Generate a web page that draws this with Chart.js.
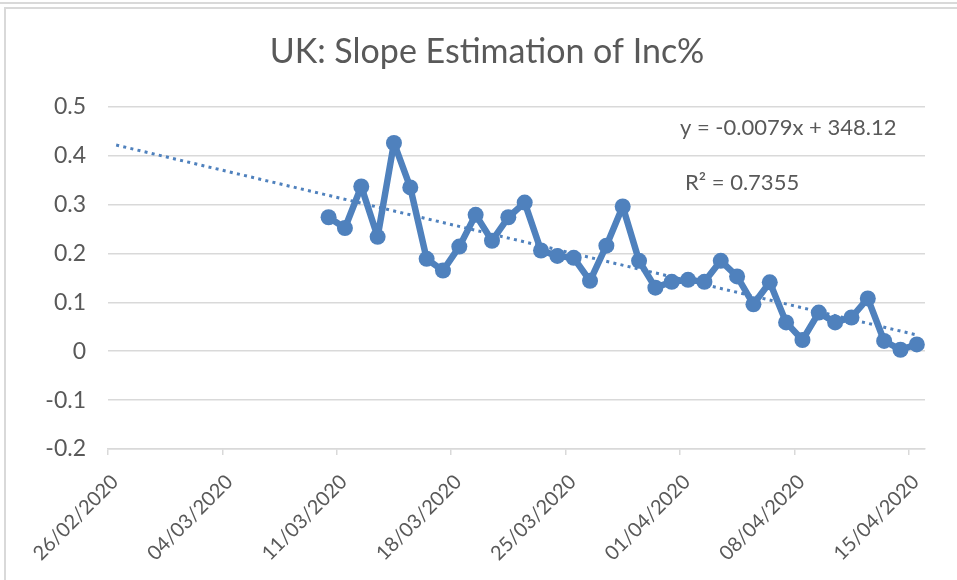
<!DOCTYPE html>
<html>
<head>
<meta charset="utf-8">
<title>UK: Slope Estimation of Inc%</title>
<script src="https://cdn.jsdelivr.net/npm/chart.js@4.4.1/dist/chart.umd.min.js"></script>
<style>
  html, body { margin: 0; padding: 0; background: #fff; }
  .wrap { position: relative; width: 957px; height: 580px; overflow: hidden; }
  .wrap canvas { position: absolute; left: 0; top: 0; }
  /* outline of the sheet above and the chart frame */
  .rule-top { position: absolute; left: 0; right: 0; top: 2px; height: 2px; background: #d9d9d9; }
  .frame { position: absolute; left: 4px; top: 7px; right: -4px; bottom: -4px;
           border-left: 2px solid #d9d9d9; border-top: 2px solid #d9d9d9; pointer-events: none; }
</style>
</head>
<body>
<div class="wrap">
  <canvas id="grafic" width="957" height="580"></canvas>
  <div class="rule-top"></div>
  <div class="frame"></div>
</div>
<script>
// first day on the date axis, ticks every week
const axisStart = '26/02/2020';
const axisDays = 50;
const tickStepDays = 7;

const dates = [
  '10/03/2020', '11/03/2020', '12/03/2020', '13/03/2020', '14/03/2020', '15/03/2020',
  '16/03/2020', '17/03/2020', '18/03/2020', '19/03/2020', '20/03/2020', '21/03/2020',
  '22/03/2020', '23/03/2020', '24/03/2020', '25/03/2020', '26/03/2020', '27/03/2020',
  '28/03/2020', '29/03/2020', '30/03/2020', '31/03/2020', '01/04/2020', '02/04/2020',
  '03/04/2020', '04/04/2020', '05/04/2020', '06/04/2020', '07/04/2020', '08/04/2020',
  '09/04/2020', '10/04/2020', '11/04/2020', '12/04/2020', '13/04/2020', '14/04/2020',
  '15/04/2020'
];

const incSlope = [
  0.274, 0.252, 0.337, 0.234, 0.426, 0.335,
  0.189, 0.165, 0.214, 0.279, 0.226, 0.274,
  0.304, 0.206, 0.195, 0.191, 0.144, 0.216,
  0.296, 0.185, 0.130, 0.142, 0.146, 0.142,
  0.185, 0.153, 0.096, 0.141, 0.059, 0.023,
  0.079, 0.059, 0.069, 0.108, 0.021, 0.003,
  0.014
];

const yTicks = [-0.2, -0.1, 0, 0.1, 0.2, 0.3, 0.4, 0.5];

const trendEquation = 'y = -0.0079x + 348.12';
const trendR2 = 'R² = 0.7355';

const culoare = '#4f81bd';
const culoareText = '#595959';
const culoareGrid = '#d9d9d9';

function parseDate(s) {
  const [d, m, y] = s.split('/').map(Number);
  return Date.UTC(y, m - 1, d);
}

const t0 = parseDate(axisStart);
const dayOf = (s) => Math.round((parseDate(s) - t0) / 86400000);

function formatDay(v) {
  const d = new Date(t0 + v * 86400000);
  const pad = (n) => String(n).padStart(2, '0');
  return `${pad(d.getUTCDate())}/${pad(d.getUTCMonth() + 1)}/${d.getUTCFullYear()}`;
}

// points sit in the middle of their day slot, like a date axis "between tick marks"
const zile = dates.map(dayOf);
const puncte = zile.map((z, i) => ({ x: z + 0.5, y: incSlope[i] }));

// least squares trend, forecast back to the start of the axis
function linearFit(xs, ys) {
  const n = xs.length;
  const mx = xs.reduce((a, b) => a + b, 0) / n;
  const my = ys.reduce((a, b) => a + b, 0) / n;
  let sxy = 0, sxx = 0;
  for (let i = 0; i < n; i++) {
    sxy += (xs[i] - mx) * (ys[i] - my);
    sxx += (xs[i] - mx) ** 2;
  }
  const slope = sxy / sxx;
  return { slope, intercept: my - slope * mx };
}

const fit = linearFit(zile, incSlope);
const trendDays = [0, zile[zile.length - 1]];
const trendPoints = trendDays.map((z) => ({ x: z + 0.5, y: fit.intercept + fit.slope * z }));

// equation and R² box in the upper right of the plot
const eticheteTrend = {
  id: 'eticheteTrend',
  afterDatasetsDraw(chart) {
    const { ctx, chartArea } = chart;
    ctx.save();
    ctx.font = '22px Lato';
    ctx.fillStyle = culoareText;
    ctx.textAlign = 'left';
    ctx.textBaseline = 'middle';
    ctx.fillText(trendEquation, chartArea.right - 245, chartArea.top + 21);
    ctx.fillText(trendR2, chartArea.right - 240, chartArea.top + 76);
    ctx.restore();
  }
};

function deseneaza() {
  new Chart(document.getElementById('grafic'), {
    type: 'line',
    data: {
      datasets: [
        {
          label: 'Inc% slope',
          data: puncte,
          borderColor: culoare,
          backgroundColor: culoare,
          borderWidth: 6.5,
          borderJoinStyle: 'round',
          borderCapStyle: 'round',
          pointRadius: 8,
          pointHoverRadius: 8,
          pointBorderWidth: 0,
          tension: 0,
          order: 1
        },
        {
          label: 'Linear trend',
          data: trendPoints,
          borderColor: culoare,
          borderWidth: 3,
          borderDash: [3, 4.3],
          pointRadius: 0,
          pointHoverRadius: 0,
          fill: false,
          order: 2
        }
      ]
    },
    options: {
      responsive: false,
      animation: false,
      devicePixelRatio: 1,
      // title is centred over the whole chart frame, plot stops short of the right edge
      layout: { padding: { left: 17, right: 0, top: 0, bottom: 0 } },
      plugins: {
        legend: { display: false },
        tooltip: { enabled: false },
        title: {
          display: true,
          text: 'UK: Slope Estimation of Inc%',
          color: culoareText,
          font: { family: 'Lato', size: 34, weight: 'normal' },
          padding: { top: 32, bottom: 34 }
        }
      },
      scales: {
        x: {
          type: 'linear',
          min: 0,
          max: axisDays,
          border: { display: true, color: culoareGrid, width: 1.5 },
          grid: { drawOnChartArea: false, drawTicks: true, tickLength: 6, color: culoareGrid, lineWidth: 1.5 },
          ticks: {
            stepSize: tickStepDays,
            includeBounds: false,
            autoSkip: false,
            minRotation: 45,
            maxRotation: 45,
            padding: 15,
            labelOffset: 7,
            color: culoareText,
            font: { family: 'Lato', size: 20 },
            callback: (v) => formatDay(v)
          },
          afterFit: (s) => {
            s.height = 131;
            s.paddingRight = 32;
          }
        },
        y: {
          min: yTicks[0],
          max: yTicks[yTicks.length - 1],
          border: { display: false },
          grid: { color: culoareGrid, lineWidth: 1.5, drawTicks: false },
          ticks: {
            stepSize: 0.1,
            padding: 22,
            color: culoareText,
            font: { family: 'Lato', size: 23 },
            callback: (v) => String(Number(v.toFixed(1)))
          },
          afterFit: (s) => { s.width = 91; }
        }
      }
    },
    plugins: [eticheteTrend]
  });
}

Promise.all([
  document.fonts.load('23px Lato'),
  document.fonts.load('34px Lato')
]).then(deseneaza, deseneaza);
</script>
</body>
</html>
